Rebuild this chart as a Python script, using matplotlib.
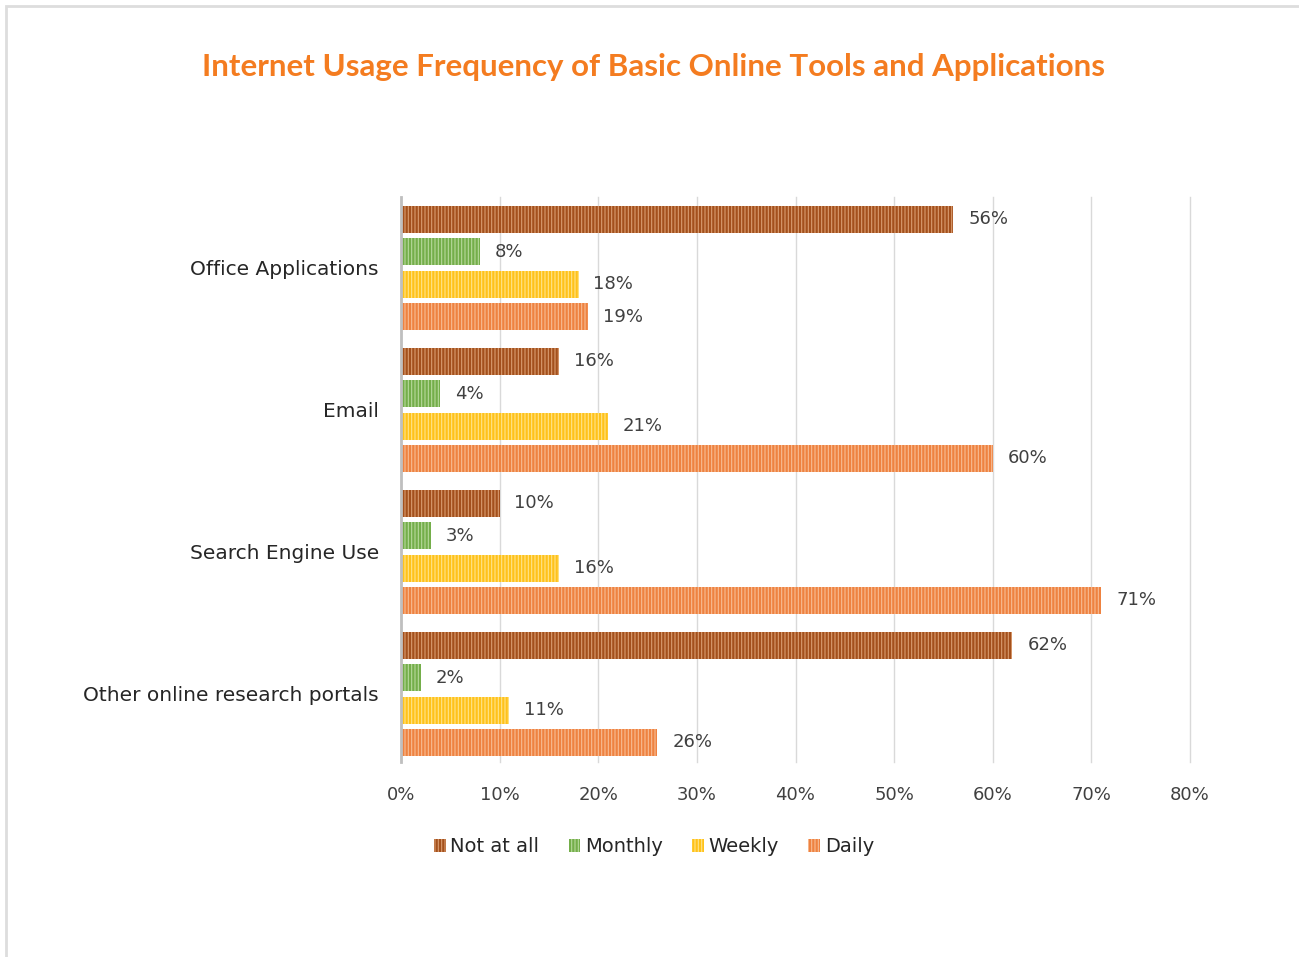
import matplotlib
matplotlib.use("Agg")
import matplotlib.pyplot as plt
from matplotlib.patches import Rectangle
import numpy as np

categories = ["Office Applications", "Email", "Search Engine Use", "Other online research portals"]
series_names = ["Not at all", "Monthly", "Weekly", "Daily"]
not_at_all = [56, 16, 10, 62]
monthly = [8, 4, 3, 2]
weekly = [18, 21, 16, 11]
daily = [19, 60, 71, 26]
xticks = [0, 10, 20, 30, 40, 50, 60, 70, 80]

colors = ["#A3501C", "#74AE4A", "#FFC21A", "#EE8240"]
hatch_colors = ["#D99C70", "#B7D99C", "#FFE48A", "#F8BC94"]

plt.rcParams['font.family'] = ['DejaVu Sans']
plt.rcParams['hatch.linewidth'] = 0.8

fig = plt.figure(figsize=(12.99, 9.57), dpi=100)
fig.patches.append(Rectangle((6/1299, -0.01), 1.2, 1 - 6/957 + 0.01, transform=fig.transFigure,
                             fill=False, edgecolor="#DDDDDD", linewidth=2))

ax = fig.add_axes([401/1299, 1 - 762/957, (1190 - 401)/1299, (762 - 197)/957])

data = [not_at_all, monthly, weekly, daily]
step = 0.228
height = 0.19
offsets = np.array([-1.5, -0.5, 0.5, 1.5]) * step
ypos = np.arange(len(categories))
for i, (vals, name) in enumerate(zip(data, series_names)):
    y = ypos + offsets[i]
    bars = ax.barh(y, vals, height=height, color=colors[i], edgecolor=hatch_colors[i],
                   linewidth=0, hatch='|||||', label=name)
    for b, v in zip(bars, vals):
        ax.text(v + 1.5, b.get_y() + b.get_height() / 2, f"{v}%", va='center', ha='left',
                fontsize=13, color='#404040')

ax.set_xlim(0, 80)
ax.set_ylim(3.48, -0.5)
ax.set_xticks(xticks)
ax.set_xticklabels([f"{t}%" for t in xticks], fontsize=13, color='#404040')
ax.set_yticks(ypos)
ax.set_yticklabels(categories, fontsize=14.5, color='#262626')
ax.tick_params(axis='both', length=0)
ax.tick_params(axis='y', pad=16)
ax.tick_params(axis='x', pad=17)
ax.grid(axis='x', color='#D9D9D9', linewidth=1)
for gl in ax.get_xgridlines():
    gl.set_clip_on(False)
ax.set_axisbelow(True)
for s in ['top', 'right', 'bottom']:
    ax.spines[s].set_visible(False)
ax.spines['left'].set_color('#BFBFBF')
ax.spines['left'].set_linewidth(2)

fig.text(654/1299, 1 - 67/957, "Internet Usage Frequency of Basic Online Tools and Applications",
         ha='center', va='center', fontsize=22.5, fontweight='bold', color='#F47C20',
         family=['Lato', 'DejaVu Sans'])

handles, labels = ax.get_legend_handles_labels()
leg = fig.legend(handles, labels, loc='center', bbox_to_anchor=(654/1299, 1 - 847/957), ncol=4,
                 frameon=False, fontsize=14, handlelength=0.6, handleheight=0.6,
                 handletextpad=0.25, columnspacing=1.5, labelcolor='#262626')

fig.savefig("out.png", dpi=100)
